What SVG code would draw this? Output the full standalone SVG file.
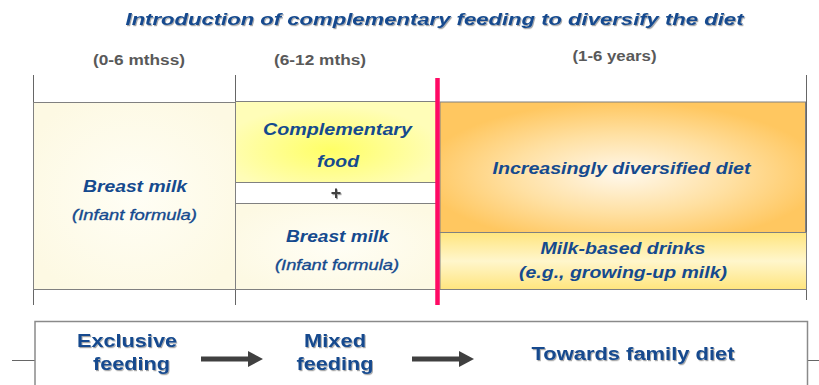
<svg xmlns="http://www.w3.org/2000/svg" width="819" height="385" viewBox="0 0 819 385">
  <defs>
    <radialGradient id="cream" cx="0.5" cy="0.5" r="0.6">
      <stop offset="0" stop-color="#FFFEF5"/>
      <stop offset="1" stop-color="#FDF9E3"/>
    </radialGradient>
    <radialGradient id="yellow" cx="0.47" cy="0.6" r="0.55">
      <stop offset="0" stop-color="#FFFF66"/>
      <stop offset="1" stop-color="#FFFDB8"/>
    </radialGradient>
    <radialGradient id="orange" cx="0.5" cy="0.55" r="0.55">
      <stop offset="0" stop-color="#FFF8EC"/>
      <stop offset="0.55" stop-color="#FFE0A2"/>
      <stop offset="1" stop-color="#FFC760"/>
    </radialGradient>
    <linearGradient id="band" x1="0" y1="0" x2="0" y2="1">
      <stop offset="0" stop-color="#FFE57E"/>
      <stop offset="0.5" stop-color="#FFF6CC"/>
      <stop offset="1" stop-color="#FFE57E"/>
    </linearGradient>
    <filter id="shadow" x="-10%" y="-20%" width="120%" height="160%">
      <feDropShadow dx="1" dy="1.2" stdDeviation="0.7" flood-color="#000" flood-opacity="0.35"/>
    </filter>
  </defs>
  <style>
    .grid { stroke: #666; stroke-width: 1; fill: none; }
    .box { stroke: #808080; stroke-width: 1; }
    .sans { font-family: "Liberation Sans", Arial, sans-serif; }
    .title { font-weight: bold; font-style: italic; font-size: 17px; fill: #154A8E; text-anchor: middle; }
    .col { font-weight: bold; font-size: 14px; fill: #595959; text-anchor: middle; }
    .bi { font-weight: bold; font-style: italic; font-size: 17px; fill: #154A8E; text-anchor: middle; }
    .it { font-style: italic; font-size: 15px; fill: #154A8E; stroke: #154A8E; stroke-width: 0.35; text-anchor: middle; }
    .stage { font-weight: bold; font-size: 18px; fill: #154A8E; text-anchor: middle; }
    .arrow { fill: #404040; }
  </style>

  <!-- Title and age columns -->
  <text class="sans title" x="434.5" y="25" textLength="618" lengthAdjust="spacingAndGlyphs" filter="url(#shadow)">Introduction of complementary  feeding to diversify the diet</text>
  <text class="sans col" x="139" y="65" textLength="92" lengthAdjust="spacingAndGlyphs">(0-6 mthss)</text>
  <text class="sans col" x="320" y="65" textLength="92" lengthAdjust="spacingAndGlyphs">(6-12 mths)</text>
  <text class="sans col" x="614.5" y="61" textLength="84" lengthAdjust="spacingAndGlyphs">(1-6 years)</text>

  <!-- Column guide lines -->
  <g id="guides">
    <line class="grid" x1="33.5" y1="75" x2="33.5" y2="305"/>
    <line class="grid" x1="235.5" y1="75" x2="235.5" y2="305"/>
    <line class="grid" x1="806.5" y1="75" x2="806.5" y2="300"/>
    <line class="grid" x1="12" y1="360.5" x2="35" y2="360.5"/>
    <line class="grid" x1="807" y1="360.5" x2="819" y2="360.5"/>
  </g>

  <g id="exclusive-milk">
    <rect class="box" x="33.5" y="102.5" width="202" height="187" fill="url(#cream)"/>
    <text class="sans bi" x="135" y="192" textLength="104" lengthAdjust="spacingAndGlyphs">Breast milk</text>
    <text class="sans it" x="134.5" y="220" textLength="125" lengthAdjust="spacingAndGlyphs">(Infant formula)</text>
  </g>

  <g id="complementary-food">
    <rect class="box" x="235.5" y="101.5" width="202" height="81" fill="url(#yellow)"/>
    <text class="sans bi" x="337.5" y="135" textLength="149" lengthAdjust="spacingAndGlyphs">Complementary</text>
    <text class="sans bi" x="338" y="167" textLength="42" lengthAdjust="spacingAndGlyphs">food</text>
  </g>

  <g id="plus">
    <rect class="box" x="235.5" y="182.5" width="202" height="21" fill="#fff"/>
    <text class="sans" x="336" y="198.5" font-size="18" font-weight="bold" text-anchor="middle" fill="#404040" filter="url(#shadow)">+</text>
  </g>

  <g id="mixed-milk">
    <rect class="box" x="235.5" y="203.5" width="202" height="86" fill="url(#cream)"/>
    <text class="sans bi" x="337.5" y="242" textLength="103" lengthAdjust="spacingAndGlyphs">Breast milk</text>
    <text class="sans it" x="337" y="270" textLength="124" lengthAdjust="spacingAndGlyphs">(Infant formula)</text>
  </g>

  <g id="diversified-diet">
    <rect class="box" x="440" y="102" width="365.5" height="130.5" fill="url(#orange)"/>
    <text class="sans bi" x="621.5" y="173.5" textLength="258" lengthAdjust="spacingAndGlyphs">Increasingly diversified diet</text>
  </g>

  <g id="milk-drinks">
    <rect class="box" x="440" y="232.5" width="366.5" height="57" fill="url(#band)"/>
    <text class="sans bi" x="623" y="253.5" textLength="165" lengthAdjust="spacingAndGlyphs">Milk-based drinks</text>
    <text class="sans bi" x="623" y="278" textLength="208" lengthAdjust="spacingAndGlyphs">(e.g., growing-up milk)</text>
  </g>

  <!-- Transition marker between mixed feeding and family diet -->
  <line id="divider" x1="437.5" y1="78" x2="437.5" y2="305" stroke="#FF0A64" stroke-width="4.5"/>

  <g id="stages-frame">
    <rect x="35" y="321.5" width="772.5" height="70" fill="#fff" stroke="#8a8a8a" stroke-width="1.5"/>
  </g>

  <g id="stage-exclusive" filter="url(#shadow)">
    <text class="sans stage" x="127" y="347" textLength="100" lengthAdjust="spacingAndGlyphs">Exclusive</text>
    <text class="sans stage" x="131.5" y="370" textLength="77" lengthAdjust="spacingAndGlyphs">feeding</text>
  </g>
  <g id="stage-mixed" filter="url(#shadow)">
    <text class="sans stage" x="335" y="347" textLength="62" lengthAdjust="spacingAndGlyphs">Mixed</text>
    <text class="sans stage" x="335" y="370" textLength="77" lengthAdjust="spacingAndGlyphs">feeding</text>
  </g>
  <g id="stage-family" filter="url(#shadow)">
    <text class="sans stage" x="633" y="360" textLength="203" lengthAdjust="spacingAndGlyphs">Towards family diet</text>
  </g>

  <g id="connectors">
    <path class="arrow" d="M201,356.5 H248 V351 L263,359 L248,367 V361.5 H201 Z"/>
    <path class="arrow" d="M412,356.5 H459 V351 L474,359 L459,367 V361.5 H412 Z"/>
  </g>
</svg>
